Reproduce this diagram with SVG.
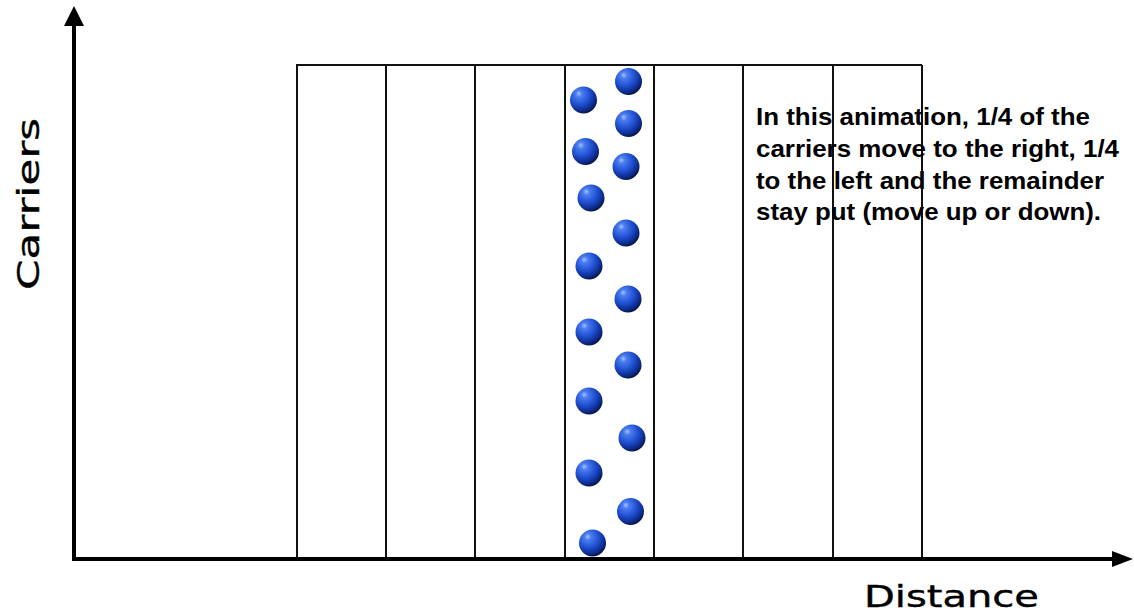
<svg xmlns="http://www.w3.org/2000/svg" width="1134" height="613" viewBox="0 0 1134 613">
  <style>
    .grid { stroke: #111; stroke-width: 2; fill: none; }
    .axis { stroke: #000; stroke-width: 4; fill: none; }
    .head { fill: #000; }
    .note { font-family: "Liberation Sans", Arial, sans-serif; font-weight: bold; font-size: 24px; fill: #000; }
    .label { font-family: "DejaVu Sans", Verdana, sans-serif; font-size: 31px; fill: #000; stroke: #000; stroke-width: 0.4; }
  </style>
  <defs>
    <radialGradient id="ballGrad" cx="0.38" cy="0.32" r="0.7" fx="0.32" fy="0.26">
      <stop offset="0" stop-color="#9fc0ff"/>
      <stop offset="0.18" stop-color="#4a7cf0"/>
      <stop offset="0.55" stop-color="#1f4fd0"/>
      <stop offset="0.85" stop-color="#0c2a8a"/>
      <stop offset="1" stop-color="#061440"/>
    </radialGradient>
    <symbol id="ball" overflow="visible">
      <circle cx="0" cy="0" r="13.5" fill="url(#ballGrad)"/>
    </symbol>
  </defs>

  <rect width="1134" height="613" fill="#fff"/>

  <g id="grid">
    <line class="grid" x1="296" y1="65" x2="922" y2="65"/>
    <line class="grid" x1="297" y1="65" x2="297" y2="558"/>
    <line class="grid" x1="386" y1="65" x2="386" y2="558"/>
    <line class="grid" x1="475" y1="65" x2="475" y2="558"/>
    <line class="grid" x1="565" y1="65" x2="565" y2="558"/>
    <line class="grid" x1="654" y1="65" x2="654" y2="558"/>
    <line class="grid" x1="743" y1="65" x2="743" y2="558"/>
    <line class="grid" x1="833" y1="65" x2="833" y2="558"/>
    <line class="grid" x1="922" y1="65" x2="922" y2="558"/>
  </g>

  <g id="connectors">
    <line class="axis" x1="74" y1="22" x2="74" y2="561"/>
    <polygon class="head" points="74,6 84,26 64,26"/>
    <line class="axis" x1="72" y1="559" x2="1116" y2="559"/>
    <polygon class="head" points="1133,559 1112,551 1112,567"/>
  </g>

  <g id="balls">
    <use id="ball1" href="#ball" x="628.5" y="81.5"/>
    <use id="ball2" href="#ball" x="583.5" y="100"/>
    <use id="ball3" href="#ball" x="628.5" y="123.5"/>
    <use id="ball4" href="#ball" x="585.5" y="151.5"/>
    <use id="ball5" href="#ball" x="626" y="166.5"/>
    <use id="ball6" href="#ball" x="591" y="198"/>
    <use id="ball7" href="#ball" x="626" y="233"/>
    <use id="ball8" href="#ball" x="589" y="266"/>
    <use id="ball9" href="#ball" x="628" y="299"/>
    <use id="ball10" href="#ball" x="589" y="332"/>
    <use id="ball11" href="#ball" x="628" y="365"/>
    <use id="ball12" href="#ball" x="589" y="401"/>
    <use id="ball13" href="#ball" x="632" y="438"/>
    <use id="ball14" href="#ball" x="589" y="473"/>
    <use id="ball15" href="#ball" x="630.5" y="511.5"/>
    <use id="ball16" href="#ball" x="592.5" y="543"/>
  </g>

  <g id="note">
    <text class="note" x="756" y="125" textLength="334" lengthAdjust="spacingAndGlyphs">In this animation, 1/4 of the</text>
    <text class="note" x="756" y="157" textLength="363" lengthAdjust="spacingAndGlyphs">carriers move to the right, 1/4</text>
    <text class="note" x="756" y="189" textLength="348" lengthAdjust="spacingAndGlyphs">to the left and the remainder</text>
    <text class="note" x="756" y="220" textLength="345" lengthAdjust="spacingAndGlyphs">stay put (move up or down).</text>
  </g>

  <g id="yLabel">
    <text class="label" transform="translate(39,290) rotate(-90)" x="0" y="0" textLength="172" lengthAdjust="spacingAndGlyphs">Carriers</text>
  </g>
  <g id="xLabel">
    <text class="label" x="864" y="607" textLength="175" lengthAdjust="spacingAndGlyphs">Distance</text>
  </g>
</svg>
